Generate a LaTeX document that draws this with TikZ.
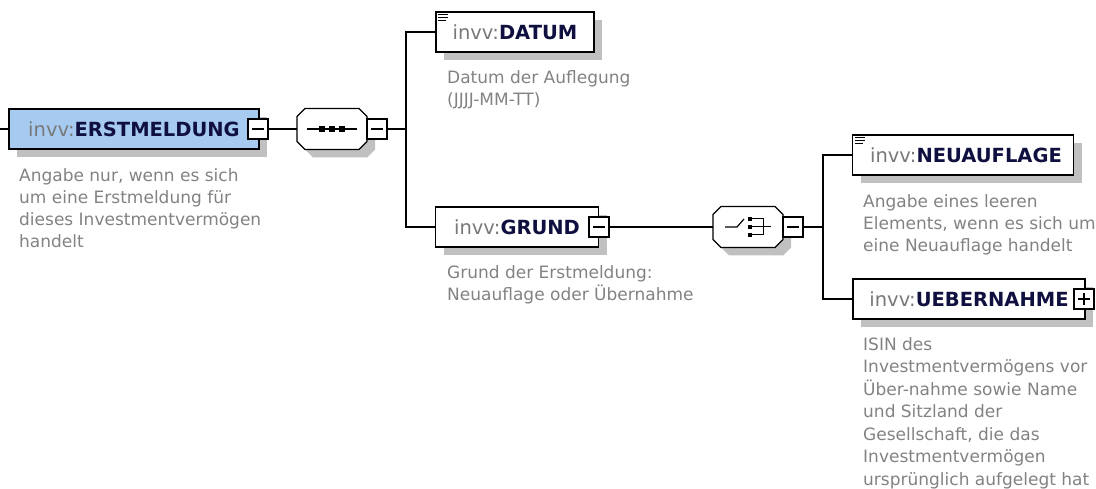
\documentclass[tikz,border=0pt]{standalone}
\usepackage{fontspec}
\setmainfont{DejaVu Sans}
\usetikzlibrary{shadows}
\definecolor{elemblue}{RGB}{166,202,240}
\definecolor{shadegray}{RGB}{192,192,192}
\definecolor{descgray}{RGB}{130,130,130}
\definecolor{prefixgray}{RGB}{120,120,120}
\definecolor{namenavy}{RGB}{16,16,64}

\begin{document}
\begin{tikzpicture}[
    x=1pt, y=-1pt,
    element/.style={rectangle, draw=black, fill=white, line width=1.5pt, minimum height=40pt, inner sep=0pt, text=namenavy, font=\fontsize{19.5}{22}\selectfont, general shadow={fill=shadegray, shadow xshift=8pt, shadow yshift=-8pt}},
    compositor/.style={rectangle, minimum width=70pt, minimum height=41pt, inner sep=0pt},
    minusbox/.style={rectangle, draw=black, fill=white, line width=1.2pt, minimum size=20pt, inner sep=0pt, path picture={\draw[line width=1.2pt] ([xshift=4pt]path picture bounding box.west) -- ([xshift=-4pt]path picture bounding box.east);}},
    plusbox/.style={rectangle, draw=black, fill=white, line width=1.2pt, minimum size=20pt, inner sep=0pt, path picture={\draw[line width=1.2pt] ([xshift=4pt]path picture bounding box.west) -- ([xshift=-4pt]path picture bounding box.east) ([yshift=-4pt]path picture bounding box.north) -- ([yshift=4pt]path picture bounding box.south);}},
    desc/.style={anchor=north west, align=left, inner sep=0pt, text=descgray, font=\fontsize{17}{22}\selectfont},
    link/.style={line width=1.2pt}
]
\useasboundingbox (0, 0) rectangle (1096, 489);

\coordinate (stub) at (0, 129);
\node[element, fill=elemblue, minimum width=250pt] (erst) at (134, 129) {{\color{prefixgray}invv:}\textbf{ERSTMELDUNG}};
\node[desc] (erstDesc) at (19, 168) {Angabe nur, wenn es sich\\um eine Erstmeldung für\\dieses Investmentvermögen\\handelt};

\node[compositor] (seq) at (332, 129) {};
\node[compositor] (choice) at (748, 227) {};
\foreach \comp in {seq, choice} {
    \begin{scope}[shift={(\comp.center)}]
        \fill[shadegray, shift={(8, 8)}] (-27, -20.5) -- (27, -20.5) -- (35, -12.5) -- (35, 12.5) -- (27, 20.5) -- (-27, 20.5) -- (-35, 12.5) -- (-35, -12.5) -- cycle;
        \draw[link, fill=white] (-27, -20.5) -- (27, -20.5) -- (35, -12.5) -- (35, 12.5) -- (27, 20.5) -- (-27, 20.5) -- (-35, 12.5) -- (-35, -12.5) -- cycle;
    \end{scope}
}

\node[minusbox] (erstMinus) at (258, 129) {};
\node[minusbox] (seqMinus) at (377, 129) {};
\coordinate (fork1) at (406, 129);

\node[element, minimum width=158pt] (datum) at (515, 32) {{\color{prefixgray}invv:}\textbf{DATUM}};
\node[desc] (datumDesc) at (447, 70) {Datum der Auflegung\\(JJJJ-MM-TT)};

\node[element, minimum width=163pt] (grund) at (517, 227) {{\color{prefixgray}invv:}\textbf{GRUND}\hspace{6pt}};
\node[minusbox] (grundMinus) at (599, 227) {};
\node[desc] (grundDesc) at (447, 265) {Grund der Erstmeldung:\\Neuauflage oder Übernahme};

\node[minusbox] (choiceMinus) at (793, 227) {};
\coordinate (fork2) at (823, 227);

\node[element, minimum width=221pt] (neu) at (963, 155) {\hspace{6pt}{\color{prefixgray}invv:}\textbf{NEUAUFLAGE}};
\node[desc] (neuDesc) at (863, 194) {Angabe eines leeren\\Elements, wenn es sich um\\eine Neuauflage handelt};

\node[element, minimum width=232pt] (ueber) at (969, 299) {{\color{prefixgray}invv:}\textbf{UEBERNAHME}\hspace{5pt}};
\node[plusbox] (ueberPlus) at (1084, 299) {};
\node[desc, font=\fontsize{17}{22.5}\selectfont] (ueberDesc) at (863, 337) {ISIN des\\Investmentvermögens vor\\Über-nahme sowie Name\\und Sitzland der\\Gesellschaft, die das\\Investmentvermögen\\ursprünglich aufgelegt hat};

\draw[link] (stub) -- (erst.west);
\draw[link] (erstMinus.east) -- (seq.west);
\draw[link] (seqMinus.east) -- (fork1);
\draw[link] (datum.west) -| (fork1) |- (grund.west);
\draw[link] (grundMinus.east) -- (choice.west);
\draw[link] (choiceMinus.east) -- (fork2);
\draw[link] (neu.west) -| (fork2) |- (ueber.west);

\draw[link] ([xshift=-25pt]seq.center) -- ([xshift=25pt]seq.center);
\foreach \dx in {-10, 0, 10}
    \fill ([xshift=\dx pt]seq.center) +(-3, -3) rectangle +(3, 3);

\begin{scope}[shift={(choice.center)}]
    \draw[link] (-23, 0) -- (-11, 0) -- (-4, -8);
    \foreach \dy in {-8, 0, 8}
        \fill (-0.5, \dy-2) rectangle (3.5, \dy+2);
    \draw[line width=1pt] (3.5, -8) -- (15, -8) -- (15, 8) -- (3.5, 8);
    \draw[line width=1pt] (3.5, 0) -- (23, 0);
\end{scope}

\foreach \elem in {datum, neu} {
    \begin{scope}[shift={(\elem.north west)}]
        \draw[line width=1pt] (3, 3.5) -- (13, 3.5) (3, 6.5) -- (13, 6.5) (3, 9.5) -- (11, 9.5);
    \end{scope}
}
\end{tikzpicture}
\end{document}
